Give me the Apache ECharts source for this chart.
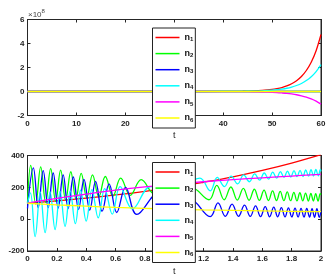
<!DOCTYPE html>
<html><head><meta charset="utf-8">
<script src="https://cdn.jsdelivr.net/npm/echarts@6/dist/echarts.min.js"></script>
<style>html,body{margin:0;padding:0;background:#fff}#c{width:331px;height:280px}</style>
</head><body><div id="c"></div>
<script>
// ---- top panel (values in units of 1e8) ----
const tTop = [0,10,20,30,40,42,44,46,48,50,51,52,53,54,55,56,57,58,59,60];
const n1Top = [0,0,0,0,0.006,0.012,0.023,0.045,0.088,0.17,0.24,0.33,0.46,0.645,0.9,1.25,1.75,2.44,3.4,4.75];
const n2Top = [0,0,0,0,0,0,0,0,0,0,0,0,0,0,0,0,0,0,0,0];
const n3Top = [0,0,0,0,0,0,0,0,0,0,0,0,0,0,0,0,0,0,0,0];
const n4Top = [0,0,0,0,0.005,0.01,0.018,0.033,0.06,0.11,0.15,0.2,0.27,0.37,0.5,0.67,0.91,1.23,1.66,2.24];
const n5Top = [0,0,0,0,-0.004,-0.008,-0.013,-0.023,-0.04,-0.07,-0.09,-0.12,-0.155,-0.205,-0.27,-0.36,-0.47,-0.61,-0.8,-1.05];
const n6Top = [0,0,0,0,0,0,0,0,0,0,0,0,0,0,0,0,0,0,0,0];

// ---- bottom panel ----
const tSlow = [0,0.2,0.4,0.6,0.8,1.0,1.2,1.4,1.6,1.8,2.0];
const n1Bot = [100,115,132,152,175,201,232,266,306,352,405];
const n5Bot = [100,130,157,182,203,220,235,248,260,271,282];
const n6Bot = [100,90,82,74,68,63,58,55,52,49,47];

const tG = [0,0.022,0.056,0.090,0.124,0.158,0.192,0.226,0.260,0.295,0.330,0.366,0.404,0.443,0.486,0.530,0.582,0.635,0.700,0.775,0.865,0.960,1.050,1.120,1.237,1.290,1.340,1.386,1.430,1.471,1.510,1.546,1.580,1.612,1.642,1.670,1.697,1.722,1.747,1.770,1.793,1.815,1.836,1.856,1.876,1.895,1.914,1.931,1.948,1.964,1.980,1.995,2.000];
const n2Bot = [100,338,95,328,105,318,112,308,120,298,128,288,135,278,140,268,145,258,150,248,160,232,165,196,122,212,122,202,120,194,119,188,118,182,117,178,117,174,116,171,116,168,115,166,115,164,114,162,114,161,113,160,155];

const tB = [0,0.040,0.073,0.107,0.141,0.175,0.209,0.243,0.277,0.312,0.348,0.385,0.424,0.464,0.508,0.556,0.608,0.668,0.745,0.895,1.010,1.105,1.245,1.298,1.348,1.394,1.438,1.479,1.518,1.554,1.588,1.620,1.650,1.678,1.705,1.730,1.755,1.778,1.801,1.823,1.844,1.864,1.884,1.903,1.922,1.939,1.956,1.972,1.988,2.000];
const n3Bot = [68,322,72,305,72,290,70,278,67,265,62,250,57,238,50,222,42,200,30,165,55,128,16,102,18,94,18,88,17,83,16,79,15,76,15,73,14,71,14,69,13,68,13,67,13,66,12,66,12,50];

const tC = [0,0.020,0.052,0.087,0.120,0.154,0.188,0.222,0.256,0.291,0.326,0.362,0.400,0.439,0.482,0.526,0.578,0.631,0.715,0.840,0.970,1.175,1.245,1.293,1.342,1.388,1.432,1.473,1.512,1.548,1.582,1.613,1.643,1.671,1.698,1.723,1.748,1.771,1.794,1.816,1.837,1.857,1.877,1.896,1.915,1.932,1.949,1.965,1.981,1.996,2.000];
const n4Bot = [100,165,-110,170,-85,172,-65,175,-45,178,-28,182,-12,186,8,192,32,205,65,205,145,258,178,262,205,270,222,278,235,284,245,290,252,295,258,299,262,302,265,305,267,307,268,309,270,311,271,312,272,313,300];

const names = ['n1','n2','n3','n4','n5','n6'];
const colors = ['#ff0000','#00ff00','#0000ff','#00ffff','#ff00ff','#ffff00'];

const zip = (t, v) => t.map((x, i) => [x, v[i]]);
const FONT = 'Liberation Sans';
const AX = '#262626';

function xAx(grid, min, max, interval, pos, labels) {
  return {
    gridIndex: grid, type: 'value', min, max, interval, position: pos,
    axisLine: { show: true, onZero: false, lineStyle: { color: AX, width: 1 } },
    axisTick: { show: true, inside: true, length: 3, lineStyle: { color: AX } },
    axisLabel: { show: labels, margin: 4, color: '#222', fontSize: 8, fontWeight: 'bold', fontFamily: FONT },
    splitLine: { show: false },
    name: labels ? 't' : '', nameLocation: 'middle', nameGap: 16,
    nameTextStyle: { color: '#222', fontSize: 9, fontFamily: FONT }
  };
}
function yAx(grid, min, max, interval, pos, labels) {
  return {
    gridIndex: grid, type: 'value', min, max, interval, position: pos,
    axisLine: { show: true, onZero: false, lineStyle: { color: AX, width: 1 } },
    axisTick: { show: true, inside: true, length: 3, lineStyle: { color: AX } },
    axisLabel: { show: labels, margin: 3, color: '#222', fontSize: 8, fontWeight: 'bold', fontFamily: FONT },
    splitLine: { show: false }
  };
}
function legendAt(top) {
  return {
    left: 152.5, top: top, orient: 'vertical',
    data: names.map(n => ({ name: n, icon: 'rect' })),
    backgroundColor: '#fff', borderColor: '#222', borderWidth: 1,
    padding: [5, 2, 5, 3], itemWidth: 24, itemHeight: 1.5, itemGap: 6.6,
    formatter: n => '{n|n}{s|' + n.slice(1) + '}',
    textStyle: { fontFamily: FONT, color: '#111',
      rich: { n: { fontSize: 9, fontWeight: 'bold', fontFamily: FONT },
              s: { fontSize: 6, fontWeight: 'bold', fontFamily: FONT, verticalAlign: 'bottom', padding: [4, 0, 0, 0] } } }
  };
}

const topVals = [n1Top, n2Top, n3Top, n4Top, n5Top, n6Top];
const botData = [zip(tSlow, n1Bot), zip(tG, n2Bot), zip(tB, n3Bot), zip(tC, n4Bot), zip(tSlow, n5Bot), zip(tSlow, n6Bot)];

const series = [];
names.forEach((n, i) => {
  series.push({ name: n, type: 'line', xAxisIndex: 0, yAxisIndex: 0, data: zip(tTop, topVals[i]),
    symbol: 'none', smooth: 0.3, lineStyle: { width: 1.3, color: colors[i] }, itemStyle: { color: colors[i] } });
});
names.forEach((n, i) => {
  series.push({ name: n, type: 'line', xAxisIndex: 2, yAxisIndex: 2, data: botData[i],
    symbol: 'none', smooth: 0.4, lineStyle: { width: 1.3, color: colors[i] }, itemStyle: { color: colors[i] } });
});

const chart = echarts.init(document.getElementById('c'), null, { renderer: 'canvas' });
chart.setOption({
  animation: false,
  backgroundColor: '#fff',
  grid: [
    { left: 27.5, top: 19.5, width: 293.5, height: 96, show: true, borderColor: AX, borderWidth: 1, backgroundColor: '#fff' },
    { left: 27.5, top: 155.5, width: 293.5, height: 95.5, show: true, borderColor: AX, borderWidth: 1, backgroundColor: '#fff' }
  ],
  xAxis: [
    xAx(0, 0, 60, 10, 'bottom', true), xAx(0, 0, 60, 10, 'top', false),
    xAx(1, 0, 2, 0.2, 'bottom', true), xAx(1, 0, 2, 0.2, 'top', false)
  ],
  yAxis: [
    yAx(0, -2, 6, 2, 'left', true), yAx(0, -2, 6, 2, 'right', false),
    yAx(1, -200, 400, 200, 'left', true), yAx(1, -200, 400, 200, 'right', false)
  ],
  legend: [legendAt(28), legendAt(162.5)],
  graphic: [{
    type: 'text', left: 28, top: 8,
    style: { text: '{a|×10}{b|8}', rich: {
      a: { fontSize: 8, fontFamily: FONT, fill: '#444', verticalAlign: 'bottom' },
      b: { fontSize: 6, fontFamily: FONT, fill: '#444', verticalAlign: 'top', padding: [0, 0, 5, 0] } } }
  }],
  series
});
</script></body></html>
